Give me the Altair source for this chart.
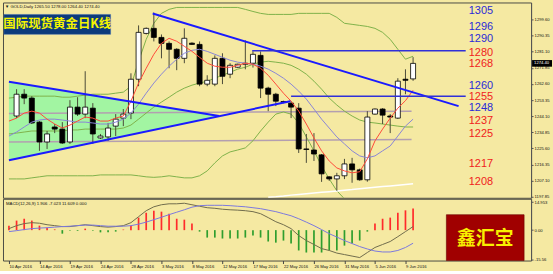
import altair as alt
import pandas as pd

# ---------------- data (bar index 0 = 10 Apr 2016, MT4 bars incl. Sundays) ----------------
bar_i = list(range(1, 54))
opens = [1244.2, 1256.7, 1254.5, 1240.7, 1229.3, 1237.9, 1236.7, 1229.3, 1249.3, 1245.3,
         1248.7, 1231.6, 1232.2, 1238.4, 1243.0, 1245.9, 1265.3, 1291.6, 1294.5, 1289.3,
         1285.9, 1282.5, 1277.3, 1286.0, 1285.3, 1262.5, 1262.5, 1277.3, 1268.2, 1272.2,
         1273.9, 1274.5, 1279.0, 1260.2, 1256.7, 1252.5, 1251.6, 1248.7, 1225.3, 1224.7,
         1221.9, 1209.3, 1208.1, 1209.9, 1216.7, 1213.3, 1207.6, 1245.3, 1248.2, 1244.2,
         1243.0, 1265.3, 1265.5]
highs = [1259.6, 1259.6, 1255.6, 1241.3, 1235.6, 1239.6, 1240.7, 1253.3, 1255.0, 1269.9,
         1251.6, 1233.9, 1240.2, 1245.3, 1248.2, 1268.7, 1296.2, 1295.0, 1303.5, 1291.0,
         1287.0, 1283.1, 1294.5, 1286.5, 1287.0, 1267.6, 1279.0, 1280.2, 1274.5, 1274.2,
         1287.6, 1281.3, 1281.3, 1261.0, 1257.5, 1253.0, 1252.7, 1251.6, 1233.9, 1234.4,
         1222.4, 1209.6, 1211.6, 1219.6, 1220.2, 1214.0, 1247.0, 1248.5, 1248.7, 1245.3,
         1265.9, 1271.0, 1278.0]
lows = [1243.0, 1251.0, 1239.6, 1224.2, 1225.3, 1234.4, 1228.2, 1228.2, 1244.2, 1243.0,
        1228.2, 1231.0, 1229.9, 1232.7, 1238.4, 1242.4, 1261.3, 1291.0, 1287.0, 1277.3,
        1271.6, 1270.5, 1274.5, 1285.0, 1261.3, 1261.3, 1261.3, 1262.5, 1265.9, 1271.9,
        1271.0, 1272.0, 1254.5, 1247.0, 1249.9, 1251.5, 1243.0, 1223.0, 1217.3, 1218.4,
        1206.4, 1207.0, 1201.3, 1208.0, 1205.9, 1207.0, 1206.5, 1245.0, 1239.6, 1234.4,
        1242.5, 1256.7, 1264.4]
closes = [1256.7, 1254.5, 1240.2, 1229.3, 1233.9, 1236.7, 1228.7, 1249.3, 1245.3, 1249.3,
          1233.9, 1232.7, 1237.3, 1242.4, 1245.3, 1265.3, 1292.2, 1294.5, 1289.3, 1285.9,
          1282.5, 1277.3, 1288.8, 1285.3, 1262.5, 1264.7, 1277.3, 1267.0, 1273.3, 1273.9,
          1274.5, 1279.6, 1260.2, 1256.7, 1252.7, 1252.0, 1249.3, 1225.3, 1225.0, 1222.4,
          1211.0, 1208.1, 1209.9, 1216.7, 1213.3, 1207.6, 1243.6, 1248.2, 1244.7, 1243.6,
          1264.2, 1264.7, 1274.4]

ind_i = list(range(0, 54))
ma_fast = [1241.3, 1243.0, 1245.9, 1247.0, 1245.9, 1242.4, 1239.6, 1237.3, 1239.0, 1241.3,
           1243.6, 1243.0, 1241.3, 1241.3, 1243.0, 1244.2, 1252.7, 1263.1, 1271.6, 1279.6,
           1285.9, 1288.8, 1287.1, 1284.2, 1281.3, 1277.9, 1274.5, 1272.8, 1272.2, 1272.2,
           1273.3, 1274.5, 1273.9, 1271.6, 1267.6, 1262.5, 1257.3, 1252.7, 1247.0, 1239.6,
           1231.6, 1224.2, 1218.4, 1214.4, 1212.7, 1211.6, 1212.2, 1219.6, 1229.9, 1236.7,
           1243.0, 1248.7, 1253.0, 1259.0]
ma_slow = [1232.7, 1235.0, 1237.9, 1240.7, 1241.9, 1242.4, 1242.4, 1241.9, 1241.3, 1240.7,
           1240.7, 1240.2, 1239.6, 1239.6, 1240.7, 1242.4, 1245.9, 1251.0, 1257.3, 1263.1,
           1268.2, 1272.8, 1276.8, 1280.2, 1281.9, 1282.5, 1281.3, 1279.6, 1277.9, 1276.2,
           1275.1, 1274.5, 1273.9, 1272.8, 1271.1, 1268.7, 1265.9, 1262.5, 1258.5, 1253.9,
           1248.2, 1242.4, 1237.3, 1232.2, 1228.2, 1224.2, 1221.3, 1220.2, 1221.3, 1224.2,
           1227.0, 1232.7, 1238.4, 1242.4]
bb_upper = [1254.5, 1255.0, 1255.6, 1255.6, 1255.6, 1255.6, 1255.6, 1255.0, 1255.0, 1255.6,
            1256.2, 1256.7, 1256.7, 1256.7, 1257.3, 1257.9, 1261.3, 1275.6, 1288.2, 1297.4,
            1303.1, 1305.4, 1306.5, 1306.5, 1306.5, 1306.5, 1306.5, 1306.5, 1306.5, 1306.5,
            1306.5, 1305.4, 1304.2, 1303.1, 1302.5, 1302.5, 1302.5, 1302.5, 1303.1, 1303.1,
            1303.1, 1303.1, 1303.1, 1300.8, 1297.4, 1296.8, 1296.2, 1295.6, 1294.5, 1292.2,
            1288.2, 1282.5, 1276.8, 1278.5]
bb_mid = [1233.9, 1234.4, 1235.0, 1235.6, 1235.6, 1235.6, 1235.6, 1235.6, 1236.2, 1236.2,
          1236.7, 1236.7, 1236.7, 1236.7, 1236.7, 1237.3, 1239.0, 1242.4, 1245.9, 1249.3,
          1252.2, 1255.0, 1257.9, 1260.2, 1261.9, 1263.1, 1264.2, 1265.9, 1267.6, 1269.3,
          1271.1, 1272.2, 1273.9, 1275.1, 1275.6, 1275.1, 1274.5, 1273.3, 1271.1, 1268.2,
          1264.2, 1259.6, 1254.5, 1250.5, 1247.0, 1244.2, 1241.9, 1240.7, 1240.2, 1239.6,
          1239.0, 1238.4, 1237.9, 1237.9]
bb_lower = [1208.1, 1208.1, 1208.1, 1208.7, 1209.3, 1209.9, 1209.9, 1209.9, 1209.9, 1209.9,
            1209.9, 1209.9, 1210.4, 1210.4, 1210.4, 1210.4, 1210.4, 1209.9, 1209.3, 1209.0,
            1209.3, 1209.9, 1209.3, 1208.7, 1208.7, 1209.9, 1212.7, 1217.3, 1221.3, 1223.6,
            1224.7, 1225.9, 1230.0, 1235.6, 1240.7, 1245.3, 1246.5, 1245.3, 1240.2, 1232.2,
            1224.2, 1215.6, 1208.1, 1201.3, 1196.7, 1193.9, 1192.7, 1192.1, 1192.1, 1192.1,
            1192.7, 1193.9, 1195.6, 1195.6]
long_i = list(range(34, 54))
ma_long = [1197.6, 1197.9, 1198.3, 1198.8, 1199.2, 1199.6, 1200.0, 1200.4, 1200.8, 1201.2,
           1201.6, 1202.0, 1202.5, 1202.9, 1203.3, 1203.7, 1204.1, 1204.5, 1204.9, 1205.3]

macd_line = [0.8, 2.4, 3.5, 4.0, 3.7, 2.9, 2.4, 1.9, 1.9, 2.4, 2.9, 2.4, 1.9, 1.6, 1.9, 2.4,
             4.0, 7.2, 10.4, 12.5, 13.6, 14.1, 14.1, 14.4, 13.6, 12.8, 12.0, 11.7, 11.2, 10.9,
             10.7, 10.4, 9.9, 8.8, 6.7, 4.5, 2.9, 0.8, -2.9, -5.6, -7.7, -9.9, -10.9, -12.3,
             -13.1, -13.9, -14.7, -12.0, -9.3, -7.7, -6.1, -3.5, -0.8, 1.906]
macd_signal = [-0.8, -0.3, 0.3, 0.8, 1.1, 1.3, 1.6, 1.9, 2.1, 2.4, 2.7, 2.7, 2.4, 2.1, 2.1, 2.1,
               2.4, 3.2, 4.3, 5.6, 6.9, 8.3, 9.6, 10.9, 12.3, 13.1, 13.3, 13.3, 13.3, 13.1,
               12.8, 12.5, 12.0, 11.5, 10.7, 9.9, 8.8, 7.7, 6.1, 4.3, 2.4, 0.3, -1.9, -3.7,
               -5.6, -7.2, -8.8, -10.1, -11.2, -11.7, -11.7, -10.9, -9.3, -7.023]
macd_hist = [2.4, 5.1, 6.1, 5.1, 2.4, 1.3, 0.4, -1.9, -0.4, -0.4, 0.8, -0.3, -1.2, -1.2, -0.8,
             0.3, 2.4, 6.7, 9.3, 10.4, 9.9, 8.8, 6.1, 5.6, 3.5, -0.8, -4.0, -4.0, -4.5, -4.5,
             -4.5, -4.0, -2.9, -4.0, -6.1, -6.7, -5.6, -7.2, -10.9, -12.0, -12.0, -12.0, -10.9,
             -10.9, -8.3, -7.2, -5.6, -0.8, 3.5, 6.1, 6.7, 9.3, 10.6, 11.609]

date_labels = ["10 Apr 2016", "14 Apr 2016", "19 Apr 2016", "24 Apr 2016", "28 Apr 2016",
               "3 May 2016", "8 May 2016", "12 May 2016", "17 May 2016", "22 May 2016",
               "26 May 2016", "31 May 2016", "5 Jun 2016", "9 Jun 2016"]
date_ticks = [0, 4, 8, 12, 16, 20, 24, 28, 32, 36, 40, 44, 48, 52]
price_ticks = [1197.85, 1207.10, 1216.35, 1225.60, 1234.85, 1244.10, 1253.35, 1262.60,
               1271.85, 1281.10, 1290.35, 1299.60]
macd_ticks = [-15.56, 0.0, 14.953]

level_text = ["1305", "1296", "1290", "1280", "1268", "1260", "1255", "1248", "1237", "1225", "1217", "1208"]
level_anchor = [1304.2, 1295.1, 1288.2, 1280.2, 1273.9, 1261.6, 1255.2, 1248.6, 1241.3, 1233.9, 1216.7, 1206.4]
level_kind = ["b", "b", "b", "r", "r", "b", "r", "b", "r", "r", "r", "r"]

# drawn objects (bar index, price)
seg_name = ["res", "res", "tri_up", "tri_up", "tri_low", "tri_low"]
seg_i = [18.85, 58.97, 0.0, 27.56, 0.0, 36.9]
seg_p = [1303.0, 1249.9, 1263.9, 1244.2, 1218.8, 1252.7]
hline_name = ["h1280", "h1280", "h1255", "h1255"]
hline_i = [31.9, 59.9, 37.0, 59.9]
hline_p = [1281.6, 1281.6, 1255.6, 1255.6]
gline_name = ["g1", "g1", "g2", "g2"]
gline_i = [0.0, 52.8, 0.0, 52.8]
gline_p = [1245.6, 1247.0, 1229.3, 1230.7]
fill_i = [0.0, 27.56]
fill_top = [1263.9, 1244.2]
fill_bot = [1218.8, 1244.2]

header = "\u25bc GOLD,Daily  1265.50 1278.00 1264.40 1274.40"
macd_title = "MACD(12,26,9) 1.906 -7.023 11.609 0.000"
last_price = 1274.40

# ---------------- frames ----------------
cdf = pd.DataFrame({"i": bar_i, "o": opens, "h": highs, "l": lows, "c": closes})
cdf["up"] = cdf["c"] >= cdf["o"]
ind = pd.DataFrame({"i": ind_i, "fast": ma_fast, "slow": ma_slow, "bu": bb_upper,
                    "bm": bb_mid, "bl": bb_lower, "macd": macd_line, "sig": macd_signal,
                    "hist": macd_hist})
ldf = pd.DataFrame({"i": long_i, "p": ma_long})
segdf = pd.DataFrame({"n": seg_name, "i": seg_i, "p": seg_p})
hdf = pd.DataFrame({"n": hline_name, "i": hline_i, "p": hline_p})
gdf = pd.DataFrame({"n": gline_name, "i": gline_i, "p": gline_p})
fdf = pd.DataFrame({"i": fill_i, "t": fill_top, "b": fill_bot})
lvl = pd.DataFrame({"t": level_text, "p": level_anchor, "k": level_kind, "i": [61.9] * len(level_text)})
pbox = pd.DataFrame({"p": [last_price], "pt": [last_price + 1.9], "pb": [last_price - 1.9],
                     "t": ["%.2f" % last_price]})

W = 530
XS = alt.Scale(domain=[-0.128, 67.82], nice=False, zero=False)
YS = alt.Scale(domain=[1197.28, 1309.35], nice=False, zero=False)
MS = alt.Scale(domain=[-16.3, 16.8], nice=False, zero=False)

yaxis = alt.Axis(orient="right", values=price_ticks, format=".2f", labelFontSize=4.2,
                 tickSize=2, labelPadding=1, grid=False, domainColor="#555555",
                 tickColor="#555555", labelColor="#111111", title=None, labelFont="Liberation Sans")


def X(f):
    return alt.X(f, type="quantitative", scale=XS, axis=None)


def Y(f):
    return alt.Y(f, type="quantitative", scale=YS, axis=yaxis)


base = alt.Chart(ind)

fill = alt.Chart(fdf).mark_area(color="#a2f5a2", opacity=1).encode(x=X("i"), y=Y("t"), y2="b")
glines = alt.Chart(gdf).mark_line(color="#b39fb0", strokeWidth=1.5).encode(x=X("i"), y=Y("p"), detail="n")
bu = base.mark_line(color="#7fb24a", strokeWidth=1, clip=True).encode(x=X("i"), y=Y("bu"))
bm = base.mark_line(color="#7fb24a", strokeWidth=1, clip=True).encode(x=X("i"), y=Y("bm"))
bl = base.mark_line(color="#7fb24a", strokeWidth=1, clip=True).encode(x=X("i"), y=Y("bl"))
white = alt.Chart(ldf).mark_line(color="#ffffff", strokeWidth=1.5, clip=True).encode(x=X("i"), y=Y("p"))

wicks = alt.Chart(cdf).mark_rule(color="#4a4a38", strokeWidth=1).encode(x=X("i"), y=Y("l"), y2="h")
bodies = alt.Chart(cdf).mark_bar(size=5, stroke="#000000", strokeWidth=0.8).encode(
    x=X("i"), y=Y("o"), y2="c",
    color=alt.condition("datum.up", alt.value("#ffffff"), alt.value("#000000")))

slow = base.mark_line(color="#8a86d6", strokeWidth=1).encode(x=X("i"), y=Y("slow"))
fast = base.mark_line(color="#ff4a3a", strokeWidth=1).encode(x=X("i"), y=Y("fast"))

trend = alt.Chart(segdf).mark_line(color="#1a1aff", strokeWidth=2).encode(x=X("i"), y=Y("p"), detail="n")
hlines = alt.Chart(hdf).mark_line(color="#3030d8", strokeWidth=1.5).encode(x=X("i"), y=Y("p"), detail="n")

labels = alt.Chart(lvl).mark_text(fontSize=11, font="Liberation Sans", align="center",
                                  baseline="middle").encode(
    x=X("i"), y=Y("p"), text="t",
    color=alt.Color("k:N", scale=alt.Scale(domain=["b", "r"], range=["#2a2ad8", "#f01c1c"]), legend=None))

tbox = alt.Chart(pd.DataFrame({"a": [0]})).mark_rect(color="#0c3b7c", stroke="#3a6ab0", strokeWidth=0.5).encode(
    x=alt.value(1), x2=alt.value(108), y=alt.value(12), y2=alt.value(32))
ttext = alt.Chart(pd.DataFrame({"t": ["国际现货黄金日K线"]})).mark_text(
    font="Noto Sans CJK SC", fontSize=12.5, fontWeight="bold", color="#f5f500", align="center",
    baseline="middle").encode(x=alt.value(54.5), y=alt.value(22), text="t")
htext = alt.Chart(pd.DataFrame({"t": [header]})).mark_text(
    font="Liberation Sans", fontSize=4.3, color="#111111", align="left", baseline="middle").encode(
    x=alt.value(2), y=alt.value(5), text="t")

prect = alt.Chart(pbox).mark_rect(color="#000000").encode(
    x=alt.value(531), x2=alt.value(551), y=Y("pt"), y2="pb")
ptext = alt.Chart(pbox).mark_text(fontSize=4.2, color="#ffffff", align="left", baseline="middle",
                                  font="Liberation Sans").encode(x=alt.value(533), y=Y("p"), text="t")

price = alt.layer(fill, glines, bu, bm, bl, white, wicks, bodies, slow, fast, trend, hlines,
                  labels, tbox, ttext, htext, prect, ptext).properties(width=W, height=196)

# ---------------- MACD panel ----------------
label_js = "[" + ",".join("'%s'" % d for d in date_labels) + "][round(datum.value/4)]"
xaxis = alt.Axis(orient="bottom", values=date_ticks, labelExpr=label_js, labelFontSize=4.2,
                 labelAlign="left", labelPadding=1, tickSize=3, tickColor="#444444",
                 domain=False, grid=False, title=None, labelColor="#111111", labelFont="Liberation Sans")
maxis = alt.Axis(orient="right", values=macd_ticks,
                 labelExpr="datum.value == 0 ? '0.00' : (datum.value > 0 ? '14.953' : '-15.56')",
                 labelFontSize=4.2, tickSize=2, labelPadding=1, grid=False, domainColor="#555555",
                 tickColor="#555555", labelColor="#111111", title=None, labelFont="Liberation Sans")


def XM(f):
    return alt.X(f, type="quantitative", scale=XS, axis=xaxis)


def YM(f):
    return alt.Y(f, type="quantitative", scale=MS, axis=maxis)


hist = base.mark_bar(size=1.7).encode(
    x=XM("i"), y=YM("hist"),
    color=alt.condition("datum.hist > 0", alt.value("#ff2b2b"), alt.value("#2e9e2e")))
mline = base.mark_line(color="#706c4c", strokeWidth=1).encode(x=XM("i"), y=YM("macd"))
sline = base.mark_line(color="#7b78de", strokeWidth=1).encode(x=XM("i"), y=YM("sig"))
mtext = alt.Chart(pd.DataFrame({"t": [macd_title]})).mark_text(
    font="Liberation Sans", fontSize=4.3, color="#111111", align="left", baseline="middle").encode(
    x=alt.value(3), y=alt.value(5), text="t")
logo = alt.Chart(pd.DataFrame({"a": [0]})).mark_rect(color="#a00000", stroke="#6a0000", strokeWidth=0.6).encode(
    x=alt.value(445), x2=alt.value(523), y=alt.value(16), y2=alt.value(62))
logotext = alt.Chart(pd.DataFrame({"t": ["鑫汇宝"]})).mark_text(
    font="Noto Sans CJK SC", fontSize=19, fontWeight="bold", color="#f8f000", align="center",
    baseline="middle").encode(x=alt.value(484), y=alt.value(40), text="t")

macd = alt.layer(hist, mline, sline, mtext, logo, logotext).properties(width=W, height=62)

chart = alt.vconcat(price, macd, spacing=1, bounds="flush").properties(
    background="#f5e9a2",
    padding={"left": 2, "top": 1, "right": 0, "bottom": 1},
).configure_view(stroke="#4c4c44", strokeWidth=1, fill="#f5e9a2")

chart.save("out.html", embed_options={"renderer": "svg", "actions": False})
